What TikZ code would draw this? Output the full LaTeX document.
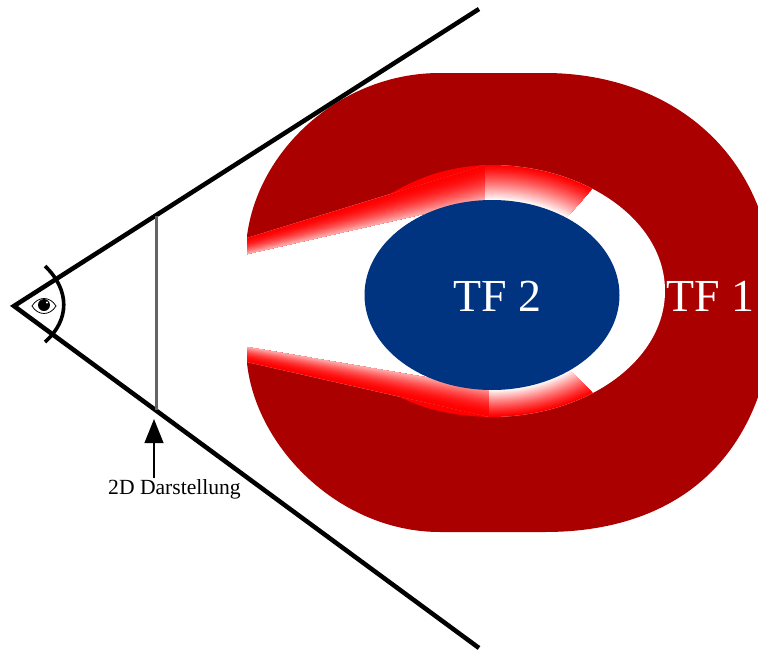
\documentclass[tikz,border=0pt]{standalone}
\usepackage{fontspec}
\setmainfont{Liberation Serif}
\usetikzlibrary{arrows.meta}
\definecolor{darkred}{HTML}{AA0000}
\definecolor{tfblue}{HTML}{003380}
\tikzset{
  sightline/.style={draw=black,line width=3.4pt},
  bigtext/.style={inner sep=0pt,font=\fontsize{34.4}{40}\selectfont},
  smalltext/.style={inner sep=0pt,font=\fontsize{16.2}{20}\selectfont},
}
\begin{document}
\begin{tikzpicture}[x=0.75pt,y=-0.75pt]
\useasboundingbox (0,0) rectangle (758,650);
% red body
\begin{scope}
  \clip (247,0) rectangle (758,650);
  \fill[darkred] (247,236) .. controls (258,150) and (340,73) .. (440,73)
     -- (545,73) .. controls (665,73) and (775,148) .. (775,302.5)
     .. controls (770,455) and (680,532) .. (545,532)
     -- (440,532) .. controls (340,532) and (256,448) .. (247,363) -- cycle;
  % inner white
  \begin{scope}
    \clip (485,0) rectangle (758,650);
    \fill[white] (490,291) ellipse [x radius=175,y radius=126];
  \end{scope}
  \fill[white] (247,238) -- (485,165) -- (489,417) -- (247,362) -- cycle;
\end{scope}
% slivers of pure red
\fill[red] (390,194) .. controls (420,176) and (450,167) .. (485,165) -- cycle;
\fill[red] (400,397) .. controls (425,410) and (455,416) .. (489,417) -- cycle;
% left gradient bands
\foreach \k in {0,...,50}{
  \pgfmathsetmacro{\t}{\k/50}
  \pgfmathsetmacro{\c}{100-70*\t^1.8}
  \fill[red!\c!white] (247,238+16*\t) -- (485,165+35*\t) -- (485,200) -- (247,254) -- cycle;
  \fill[red!\c!white] (247,362-15*\t) -- (489,417-29*\t) -- (489,388) -- (247,347) -- cycle;
}
% right gradient wedges
\begin{scope}
  \clip (485,120) -- (620,158) -- (540,247) -- (485,295) -- cycle;
  \foreach \k in {0,...,50}{
    \pgfmathsetmacro{\t}{\k/50}
    \pgfmathsetmacro{\c}{100*(1-\t^1.2)}
    \fill[red!\c!white] (490+2*\t,291+4*\t) ellipse [x radius=175-48*\t,y radius=126-31*\t];
  }
\end{scope}
\begin{scope}
  \clip (489,460) -- (620,420) -- (530,330) -- (489,295) -- cycle;
  \foreach \k in {0,...,50}{
    \pgfmathsetmacro{\t}{\k/50}
    \pgfmathsetmacro{\c}{100*(1-\t^1.2)}
    \fill[red!\c!white] (490+2*\t,291+4*\t) ellipse [x radius=175-48*\t,y radius=126-31*\t];
  }
\end{scope}
% blue ellipse and labels
\fill[tfblue] (492,295) ellipse [x radius=127.5,y radius=95];
\node[bigtext,text=white] (tf2) at (497,296) {TF 2};
\node[bigtext,text=white] (tf1) at (710,296) {TF 1};
% sight lines
\coordinate (apex) at (14,306);
\coordinate (up) at (479,9);
\coordinate (down) at (479,648);
\draw[sightline,line join=miter] (up) -- (apex) -- (down);
\draw[line width=2.7pt,black] (45,266) .. controls (70,290) and (70,320) .. (45,342);
% projection plane
\coordinate (pt) at (156,216);
\coordinate (pb) at (156,410);
\draw[draw={rgb,255:red,100;green,100;blue,100},line width=2.25pt] (pt) -- (pb);
% eye
\draw[black,line width=0.6pt,fill=white] (32,306) .. controls (38,296) and (50,296) .. (56,306) .. controls (50,316) and (38,316) .. (32,306) -- cycle;
\fill[black] (44,305) circle [radius=6];
\fill[white] (47,302.5) circle [radius=1.2];
% label and arrow
\node[smalltext] (lab) at (174.5,489) {2D Darstellung};
\coordinate (tip) at (154,419);
\draw[-{Triangle[length=18pt,width=14pt]},line width=1.6pt,black] (154,478) -- (tip);
\end{tikzpicture}
\end{document}
